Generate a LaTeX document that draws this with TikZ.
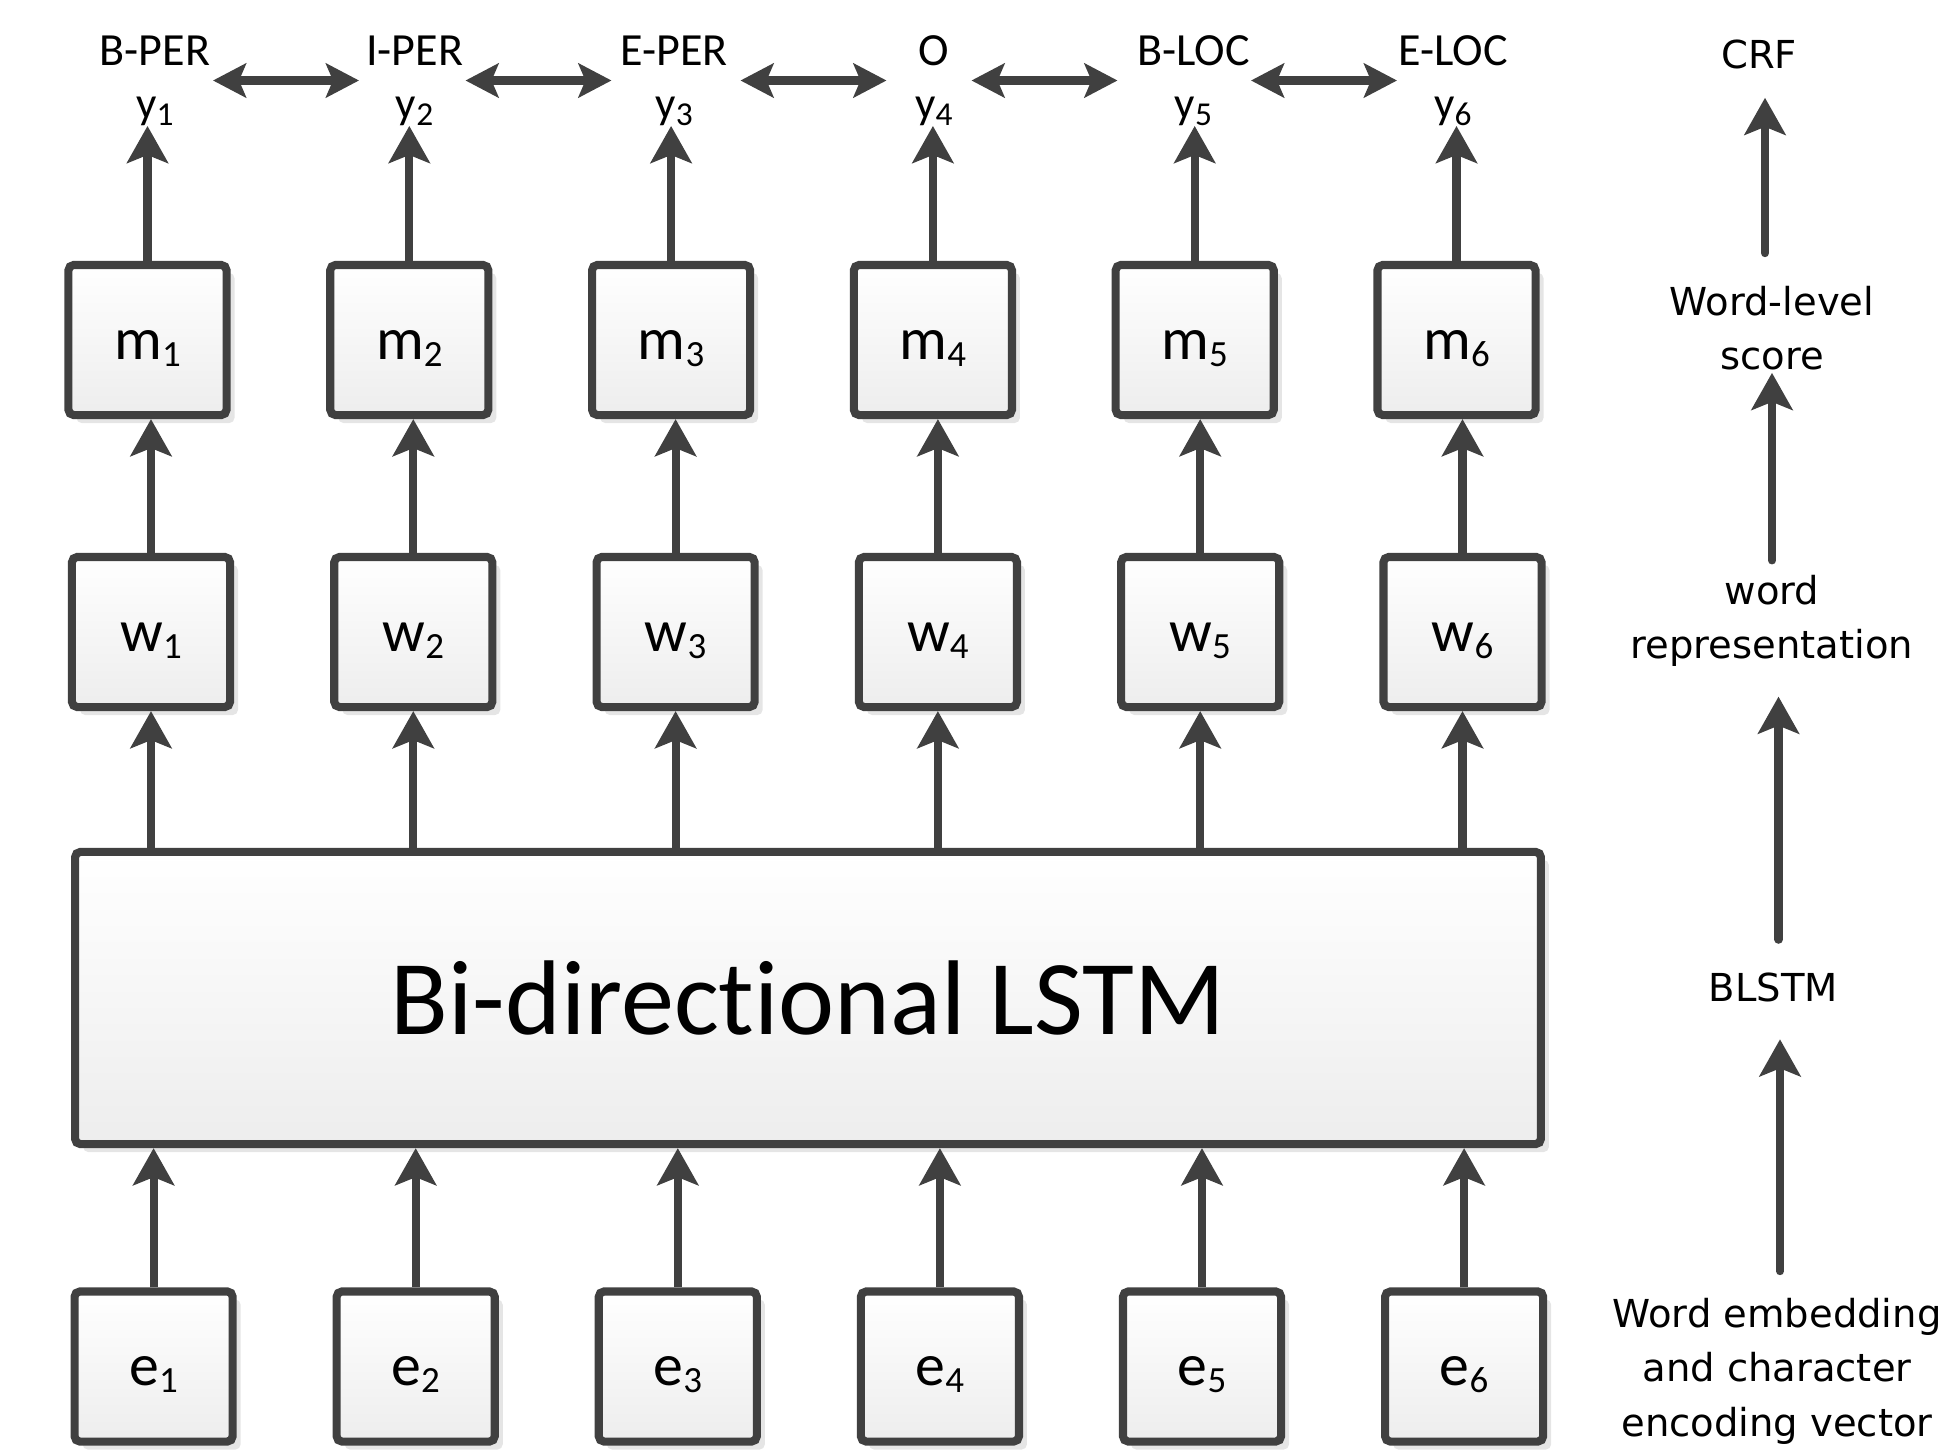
\documentclass[tikz,border=0pt]{standalone}
\usepackage{fontspec}
\setmainfont{Carlito}[Ligatures=NoCommon]
\newfontfamily\notefamily{DejaVu Sans}
\usetikzlibrary{arrows.meta, positioning, calc, shadows}
\definecolor{linegray}{HTML}{404040}
\newcommand{\lowsub}[2]{\raisebox{-0.07cm}{\fontsize{#1}{#1}\selectfont #2}}
\tikzset{
    base/.style={draw=linegray, line width=2.3pt, rounded corners=1.5pt, top color=white, bottom color=black!7,
        drop shadow={fill=black!20, shadow xshift=0.08cm, shadow yshift=-0.08cm}},
    cell/.style={base, minimum width=1.58cm, minimum height=1.5cm, inner sep=0pt, text height=0.38cm, text depth=0pt,
        font=\fontsize{17}{19}\selectfont},
    bigcell/.style={base, minimum width=14.65cm, minimum height=2.92cm, font=\fontsize{30.2}{34}\selectfont},
    tagtext/.style={inner sep=0pt, font=\fontsize{13.1}{15}\selectfont},
    ylabel/.style={inner sep=0pt, font=\fontsize{12.8}{14}\selectfont},
    notetext/.style={inner sep=0pt, align=center, font=\notefamily\fontsize{10.95}{15.5}\selectfont},
    line/.style={draw=linegray, line width=2.3pt, -{Stealth[length=0.37cm, width=0.41cm, inset=0.08cm]}},
    both-line/.style={line, {Stealth[length=0.33cm, width=0.34cm, inset=0.07cm]}-{Stealth[length=0.33cm, width=0.34cm, inset=0.07cm]}}
}
\begin{document}
\begin{tikzpicture}[x=0.01cm, y=-0.01cm]
    \useasboundingbox (0,0) rectangle (1942,1451);

    \node [bigcell] (LSTM) at (808,998) {Bi-directional LSTM};

    \foreach \i/\tag in {1/B-PER, 2/I-PER, 3/E-PER, 4/O, 5/B-LOC, 6/E-LOC}
    {
        \node [cell] (m\i) at ({147.5+261.8*(\i-1)}, 340) {m\lowsub{10.5}{\i}};
        \node [cell] (w\i) at ({151+262.3*(\i-1)}, 632) {w\lowsub{10.5}{\i}};
        \node [cell] (e\i) at ({153.6+262.1*(\i-1)}, 1366.5) {e\lowsub{10.5}{\i}};
        \node [ylabel, anchor=base] (y\i) at ({155+259.6*(\i-1)}, 118) {y\lowsub{9.5}{\i}};
        \node [tagtext, anchor=base] (t\i) at ({155+259.6*(\i-1)}, 65) {\tag};
        \draw [line] (m\i.north) -- (m\i.north |- y\i.south);
        \draw [line] (w\i.north) -- (w\i.north |- m\i.south);
        \draw [line] (LSTM.north -| w\i.south) -- (w\i.south);
        \draw [line] (e\i.north) -- (LSTM.south -| e\i.north);
    }

    % transitions between neighbouring tags
    \foreach \i/\xc in {1/286, 2/538.5, 3/813.5, 4/1044.5, 5/1324}
    {
        \coordinate (l\i) at ({\xc-73}, 80.5);
        \coordinate (r\i) at ({\xc+73}, 80.5);
        \draw [both-line] (l\i) -- (r\i);
    }

    \node [notetext] (crf) at (1759,54.5) {CRF};
    \node [notetext] (score) at (1772,328) {Word-level\\score};
    \node [notetext] (rep) at (1772,621) {word\\representation};
    \node [notetext] (blstm) at (1773.5,987) {BLSTM};
    \node [notetext] (embed) at (1777,1371) {Word embedding\\and character\\encoding vector};

    \draw [line, line cap=round, shorten <=0.32cm, shorten >=0.28cm] ([xshift=0.06cm]score.north -| crf.south) -- ([xshift=0.06cm]crf.south);
    \draw [line, line cap=round, shorten <=0.14cm, shorten >=0.02cm] (rep.north) -- (score.south);
    \draw [line, line cap=round, shorten <=0.32cm, shorten >=0.29cm] ([xshift=0.05cm]blstm.north) -- ([xshift=0.05cm]blstm.north |- rep.south);
    \draw [line, line cap=round, shorten <=0.26cm, shorten >=0.37cm] ([xshift=0.03cm]embed.north) -- ([xshift=0.03cm]embed.north |- blstm.south);
\end{tikzpicture}
\end{document}
